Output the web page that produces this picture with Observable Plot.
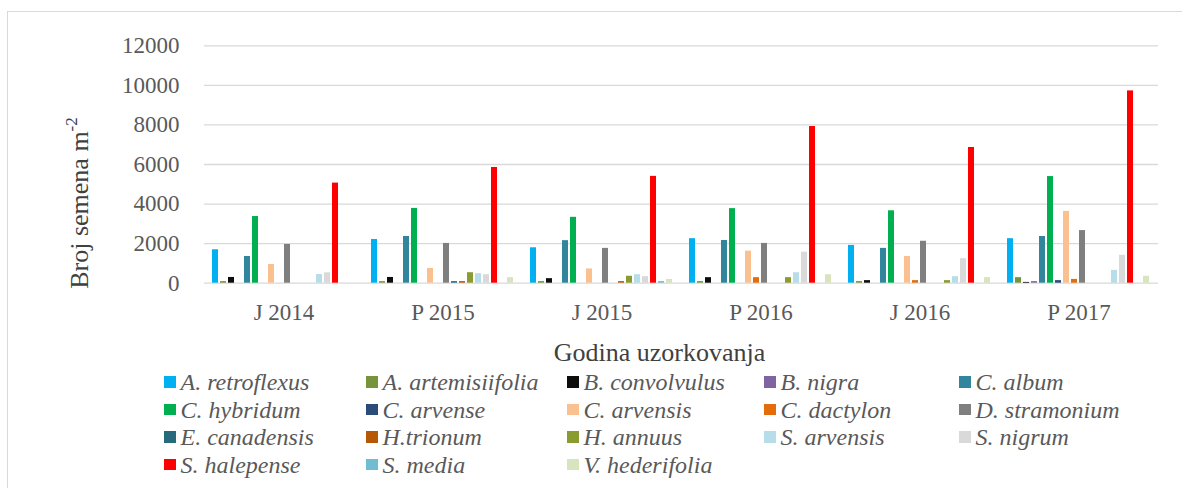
<!DOCTYPE html>
<html>
<head>
<meta charset="utf-8">
<script src="https://cdn.jsdelivr.net/npm/d3@7"></script>
<script src="https://cdn.jsdelivr.net/npm/@observablehq/plot@0.6"></script>
<style>
  body { margin: 0; background: #fff; }
  #wrap { position: relative; width: 1182px; height: 488px; overflow: hidden;
          font-family: "Liberation Serif", "Times New Roman", serif; background: #fff; }
  #chart { position: absolute; left: 0; top: 0; }
  #frame { position: absolute; left: 7px; top: 11px; width: 1220px; height: 520px;
           border: 1px solid #d9d9d9; box-sizing: border-box; pointer-events: none; }
  #ytitle { position: absolute; left: 80px; top: 202.5px; white-space: nowrap;
            transform: translate(-50%, -50%) rotate(-90deg); font-size: 26px; color: #404040;
            line-height: normal; }
  #ytitle sup { font-size: 17px; vertical-align: 0; position: relative; top: -11px; }
  #xtitle { position: absolute; left: 659.5px; top: 340px; transform: translateX(-50%);
            white-space: nowrap; font-size: 26px; line-height: 26px; color: #404040; }
  .leg { position: absolute; display: flex; align-items: center; height: 24px; white-space: nowrap; }
  .leg .sw { width: 11.5px; height: 11.5px; margin-right: 5px; flex: none; }
  .leg .lb { font-style: italic; font-size: 24px; line-height: 24px; color: #595959; }
</style>
</head>
<body>
<div id="wrap">
  <div id="chart"></div>
  <div id="ytitle">Broj semena m<sup>-2</sup></div>
  <div id="xtitle">Godina uzorkovanja</div>
  <div id="legend"></div>
  <div id="frame"></div>
</div>
<script>
// ---- data ----
const groups = ["J 2014", "P 2015", "J 2015", "P 2016", "J 2016", "P 2017"];
const species = [
  "A. retroflexus", "A. artemisiifolia", "B. convolvulus", "B. nigra", "C. album",
  "C. hybridum", "C. arvense", "C. arvensis", "C. dactylon", "D. stramonium",
  "E. canadensis", "H.trionum", "H. annuus", "S. arvensis", "S. nigrum",
  "S. halepense", "S. media", "V. hederifolia"
];
const colors = [
  "#00B0F0", "#77933C", "#0D0D0D", "#8064A2", "#31859C",
  "#00B050", "#2B4B78", "#FAC090", "#E46C0A", "#7F7F7F",
  "#276A7C", "#B65708", "#8A9B2F", "#B7DEE8", "#D9D9D9",
  "#FF0000", "#70BCD0", "#D7E4BD"
];
const valuesJ2014 = [1690, 80, 290, 0, 1350, 3370, 0, 945, 0, 1960, 0, 0, 0, 440, 525, 5060, 0, 0];
const valuesP2015 = [2210, 80, 290, 0, 2360, 3780, 0, 745, 0, 2010, 80, 80, 530, 480, 430, 5850, 0, 280];
const valuesJ2015 = [1790, 80, 230, 0, 2150, 3330, 0, 720, 0, 1760, 0, 80, 350, 430, 330, 5400, 80, 190];
const valuesP2016 = [2250, 80, 280, 0, 2160, 3770, 0, 1620, 280, 2010, 0, 0, 280, 530, 1570, 7920, 0, 430];
const valuesJ2016 = [1910, 80, 130, 0, 1760, 3660, 0, 1350, 130, 2120, 0, 0, 130, 330, 1240, 6860, 0, 280];
const valuesP2017 = [2250, 280, 40, 80, 2360, 5390, 130, 3630, 190, 2660, 0, 0, 0, 650, 1410, 9720, 0, 350];
const yTicks = [0, 2000, 4000, 6000, 8000, 10000, 12000];

// ---- table ----
const series = [valuesJ2014, valuesP2015, valuesJ2015, valuesP2016, valuesJ2016, valuesP2017];
const rows = [];
groups.forEach((g, gi) => species.forEach((s, si) => rows.push({group: g, species: s, value: series[gi][si]})));

const chart = Plot.plot({
  width: 1182,
  height: 370,
  marginLeft: 202,
  marginRight: 23,
  marginTop: 45.3,
  marginBottom: 87.3,
  style: {fontFamily: '"Liberation Serif", "Times New Roman", serif', background: "transparent", overflow: "visible"},
  fx: {domain: groups, paddingInner: 0, paddingOuter: 0},
  x: {domain: species, paddingInner: 0.2, paddingOuter: 0.89, axis: null},
  y: {domain: [0, 12000]},
  color: {domain: species, range: colors},
  marks: [
    Plot.ruleY(yTicks, {stroke: "#d9d9d9", strokeWidth: 1.3}),
    Plot.barY(rows, {fx: "group", x: "species", y: "value", fill: "species"}),
    Plot.axisY({ticks: yTicks, tickSize: 0, tickPadding: 25, fontSize: 23, color: "#595959",
                label: null, tickFormat: d => String(d)}),
    Plot.axisFx({anchor: "bottom", tickSize: 0, tickPadding: 20, fontSize: 23, color: "#595959", label: null})
  ]
});
document.getElementById("chart").appendChild(chart);

// ---- legend ----
const colX = [164, 366, 567, 764, 959];
const rowTop = [370, 397.5, 425, 452.5];
const legend = document.getElementById("legend");
species.forEach((s, i) => {
  const item = document.createElement("div");
  item.className = "leg";
  item.style.left = colX[i % 5] + "px";
  item.style.top = rowTop[Math.floor(i / 5)] + "px";
  const sw = document.createElement("div");
  sw.className = "sw";
  sw.style.background = colors[i];
  const lb = document.createElement("span");
  lb.className = "lb";
  lb.textContent = s;
  item.appendChild(sw);
  item.appendChild(lb);
  legend.appendChild(item);
});
</script>
</body>
</html>
